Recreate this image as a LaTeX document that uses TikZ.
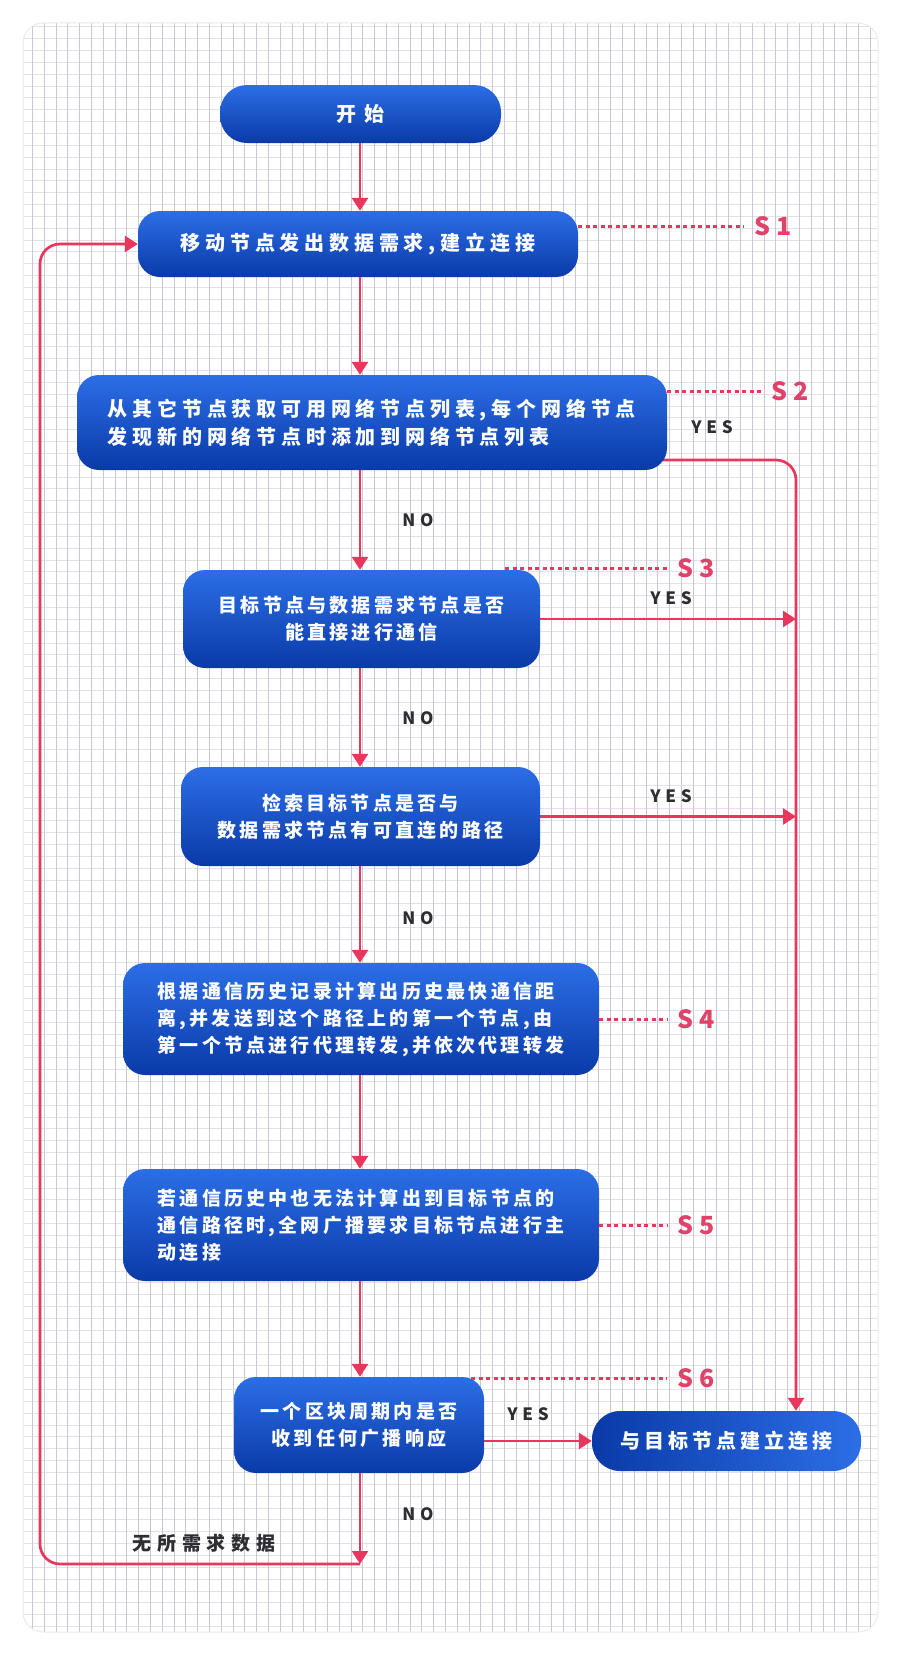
\documentclass[tikz,border=0pt]{standalone}
\usepackage{fontspec}
\usetikzlibrary{arrows.meta}
\newfontfamily\cjkA{Noto Sans CJK SC}[LetterSpace=24]
\newfontfamily\cjkB{Noto Sans CJK SC}[LetterSpace=17]
\newfontfamily\cjkC{Noto Sans CJK SC}[LetterSpace=20]
\newfontfamily\cjkD{Noto Sans CJK SC}[LetterSpace=30]
\newfontfamily\latA{Noto Sans CJK SC}[LetterSpace=28]
\newfontfamily\latB{Noto Sans CJK SC}
\definecolor{bt}{RGB}{44,110,230}
\definecolor{bb}{RGB}{10,58,168}
\definecolor{pk}{RGB}{232,54,93}
\definecolor{pklab}{RGB}{224,66,106}
\definecolor{gridv}{RGB}{200,200,210}
\definecolor{gridh}{RGB}{226,226,232}
\definecolor{txt}{RGB}{45,45,50}
\pgfdeclarelayer{gridlayer}
\pgfdeclarelayer{arrowlayer}
\pgfsetlayers{gridlayer,arrowlayer,main}
\begin{document}
\begin{tikzpicture}[x=1pt,y=-1pt,
  boxbase/.style={rounded corners=22pt, text=white, align=center, inner sep=0pt},
  fontA/.style={font=\cjkA\bfseries\fontsize{20}{28}\selectfont},
  fontB/.style={font=\cjkB\bfseries\fontsize{19}{27}\selectfont},
  fontC/.style={font=\cjkC\bfseries\fontsize{20}{28}\selectfont},
  vshade/.style={top color=bt, bottom color=bb},
  hshade/.style={left color=bb, right color=bt},
  boxA/.style={boxbase, vshade, fontA},
  boxB/.style={boxbase, vshade, fontB},
  arr/.style={draw=pk, line width=2.7pt, -{Triangle[length=13pt,width=16pt]}},
  loopline/.style={draw=pk, line width=2.7pt, rounded corners=20pt},
  dotl/.style={draw=pk, line width=3pt, dash pattern=on 4pt off 3.5pt},
  slab/.style={text=pklab, inner sep=10pt, font=\latB\bfseries\fontsize{25}{28}\selectfont},
  ylab/.style={text=txt, inner sep=0pt, font=\latA\bfseries\fontsize{17}{20}\selectfont},
  clab/.style={text=txt, inner sep=0pt, font=\cjkD\bfseries\fontsize{19}{22}\selectfont}
]
\useasboundingbox (0,0) rectangle (900,1654);
\begin{pgfonlayer}{gridlayer}
\fill[white] (0,0) rectangle (900,1654);
\begin{scope}
\path[clip, rounded corners=20pt] (23,23) rectangle (878,1632);
\fill[white] (23,23) rectangle (878,1632);
\foreach \j in {0,...,136} \draw[gridh, line width=0.8pt] (23,{26.7+11.85*\j}) -- ++(855,0);
\foreach \i in {0,...,72} \draw[gridv, line width=0.6pt] ({32.3+11.8*\i},23) -- ++(0,1609);
\end{scope}
\draw[rounded corners=20pt, draw=black!8, line width=1pt] (23,23) rectangle (878,1632);
\end{pgfonlayer}

% boxes
\node[boxA, rounded corners=27pt, minimum width=281pt, minimum height=58pt] (start) at (360.5,114) {开\hspace{8pt}始};
\node[boxA, minimum width=440pt, minimum height=66pt] (s1) at (358,244) {移动节点发出数据需求,\hspace{5pt}建立连接};
\node[boxA, align=left, minimum width=590pt, minimum height=95pt] (s2) at (372,422.5)
  {从其它节点获取可用网络节点列表,\hspace{5pt}每个网络节点\\发现新的网络节点时添加到网络节点列表};
\node[boxB, minimum width=357pt, minimum height=98pt] (s3) at (361.5,619)
  {目标节点与数据需求节点是否\\能直接进行通信};
\node[boxB, minimum width=359pt, minimum height=99pt] (s3b) at (360.5,816.5)
  {检索目标节点是否与\\数据需求节点有可直连的路径};
\node[boxB, align=left, minimum width=476pt, minimum height=112pt] (s4) at (361,1019)
  {根据通信历史记录计算出历史最快通信距\\离,并发送到这个路径上的第一个节点,由\\第一个节点进行代理转发,并依次代理转发};
\node[boxB, align=left, minimum width=476pt, minimum height=112pt] (s5) at (361,1225)
  {若通信历史中也无法计算出到目标节点的\\通信路径时,全网广播要求目标节点进行主\\动连接};
\node[boxB, minimum width=250pt, minimum height=96pt] (s6) at (359,1425)
  {一个区块周期内是否\\收到任何广播响应};
\node[boxbase, hshade, fontC, rounded corners=28pt,
  minimum width=269pt, minimum height=60pt] (fin) at (726.5,1441) {与目标节点建立连接};

% helper coordinates
\coordinate (cx) at (360,0);
\coordinate (rx) at (796,0);
\coordinate (lx) at (40,0);
\coordinate (y2) at (0,460);
\coordinate (lb) at (360,1564);
\coordinate (d3) at (505,568);
\coordinate (d6) at (471,1378);

% labels
\node[slab] (l1) at (773,226) {S 1};
\node[slab] (l2) at (790,391) {S 2};
\node[slab] (l3) at (696,568) {S 3};
\node[slab] (l4) at (696,1019) {S 4};
\node[slab] (l5) at (696,1225) {S 5};
\node[slab] (l6) at (696,1378) {S 6};

\node[ylab] (yes2) at (712,427) {YES};
\node[ylab] (yes3) at (671,598) {YES};
\node[ylab] (yes3b) at (671,796) {YES};
\node[ylab] (yes6) at (528,1414) {YES};
\node[ylab] (no2) at (418,520) {NO};
\node[ylab] (no3) at (418,718) {NO};
\node[ylab] (no3b) at (418,918) {NO};
\node[ylab] (no6) at (418,1514) {NO};
\node[clab] (nodata) at (204,1543) {无所需求数据};

\begin{pgfonlayer}{arrowlayer}
\draw[arr] (start.south -| cx) -- (s1.north -| cx);
\draw[arr] (s1.south -| cx) -- (s2.north -| cx);
\draw[arr] (s2.south -| cx) -- (s3.north -| cx);
\draw[arr] (s3.south -| cx) -- (s3b.north -| cx);
\draw[arr] (s3b.south -| cx) -- (s4.north -| cx);
\draw[arr] (s4.south -| cx) -- (s5.north -| cx);
\draw[arr] (s5.south -| cx) -- (s6.north -| cx);
\draw[arr] (s6.south -| cx) -- (lb);
\draw[loopline, -{Triangle[length=13pt,width=16pt]}] (lb) -- (lb -| lx) -- (s1.west -| lx) -- (s1.west);
\draw[loopline, -{Triangle[length=13pt,width=16pt]}] (s2.center |- y2) -- (rx |- y2) -- (fin.north -| rx);
\draw[arr] (s3.east) -- (s3.east -| rx);
\draw[arr] (s3b.east) -- (s3b.east -| rx);
\draw[arr] (s6.east |- fin.west) -- (fin.west);
\draw[dotl] (s1.east |- l1) -- (l1.west);
\draw[dotl] (s2.east |- l2) -- (l2.west);
\draw[dotl] (d3) -- (l3.west);
\draw[dotl] (s4.east |- l4) -- (l4.west);
\draw[dotl] (s5.east |- l5) -- (l5.west);
\draw[dotl] (d6) -- (l6.west);
\end{pgfonlayer}
\end{tikzpicture}
\end{document}
